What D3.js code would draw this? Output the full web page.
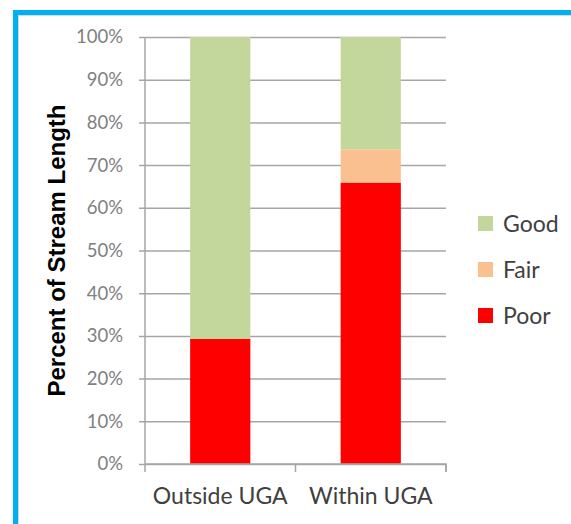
<!DOCTYPE html>
<html>
<head>
<meta charset="utf-8">
<script src="https://cdn.jsdelivr.net/npm/d3@7"></script>
<style>
  body { margin: 0; background: #fff; }
  svg { display: block; }
  .tick text { font-family: Lato, "Noto Sans", sans-serif; }
</style>
</head>
<body>
<div id="chart"></div>
<script>
// data
var categories = ["Outside UGA", "Within UGA"];
var conditions = ["Poor", "Fair", "Good"];
var poor = [29.3, 65.9];
var fair = [0, 7.8];
var good = [70.7, 26.3];
var yTicks = [0, 10, 20, 30, 40, 50, 60, 70, 80, 90, 100];
var legendOrder = ["Good", "Fair", "Poor"];

var colors = {Poor: "#ff0000", Fair: "#fac090", Good: "#c3d69b"};

var W = 571, H = 524;
var margin = {top: 37, right: 125, bottom: 60, left: 145};
var width = W - margin.left - margin.right,
    height = H - margin.top - margin.bottom;

var svg = d3.select("#chart").append("svg")
    .attr("width", W)
    .attr("height", H);

// blue frame (left + top edges visible)
svg.append("path")
    .attr("d", "M15.5,524 V12.5 H571")
    .attr("fill", "none")
    .attr("stroke", "#00b0f0")
    .attr("stroke-width", 5);
svg.append("path")
    .attr("d", "M18.5,524 V15.5 H571")
    .attr("fill", "none")
    .attr("stroke", "#d8d8d8")
    .attr("stroke-width", 1);

var g = svg.append("g")
    .attr("transform", "translate(" + margin.left + "," + margin.top + ")");

var table = categories.map(function(c, i){
    return {cat: c, Poor: poor[i], Fair: fair[i], Good: good[i]};
});

var x = d3.scaleBand()
    .domain(categories)
    .range([0, width])
    .paddingInner(0.6)
    .paddingOuter(0.3);

var y = d3.scaleLinear()
    .domain([0, 100])
    .range([height, 0]);

// y axis with gridlines
var yAxis = g.append("g")
    .attr("class", "y-axis")
    .call(d3.axisLeft(y)
        .tickValues(yTicks)
        .tickSize(-width)
        .tickPadding(22)
        .tickFormat(function(d){ return d + "%"; }));
yAxis.select(".domain").remove();
yAxis.selectAll(".tick line")
    .attr("x1", -6)
    .attr("stroke", "#a6a6a6")
    .attr("stroke-width", 1.5);
yAxis.selectAll(".tick text")
    .attr("fill", "#808080")
    .attr("font-size", 18.5);

g.append("line")
    .attr("x1", 0).attr("x2", 0)
    .attr("y1", 0).attr("y2", height)
    .attr("stroke", "#a6a6a6")
    .attr("stroke-width", 1.5);

// stacked bars
var series = d3.stack().keys(conditions)(table);

g.selectAll(".layer")
    .data(series)
    .enter().append("g")
    .attr("class", "layer")
    .attr("fill", function(d){ return colors[d.key]; })
    .selectAll("rect")
    .data(function(d){ return d; })
    .enter().append("rect")
    .attr("x", function(d){ return x(d.data.cat); })
    .attr("width", x.bandwidth())
    .attr("y", function(d){ return y(d[1]); })
    .attr("height", function(d){ return y(d[0]) - y(d[1]); });

// x axis: labels from band scale, ticks at category boundaries
var xAxis = g.append("g")
    .attr("transform", "translate(0," + height + ")")
    .call(d3.axisBottom(x).tickSize(0).tickPadding(24));
xAxis.select(".domain")
    .attr("stroke", "#a6a6a6")
    .attr("stroke-width", 1.5)
    .attr("d", "M0,0H" + width + "V8");
xAxis.selectAll(".tick text")
    .attr("fill", "#404040")
    .attr("font-size", 23);

var bounds = d3.range(categories.length + 1).map(function(i){ return i * width / categories.length; });
xAxis.selectAll(".bound")
    .data(bounds)
    .enter().append("line")
    .attr("class", "bound")
    .attr("x1", function(d){ return d; })
    .attr("x2", function(d){ return d; })
    .attr("y1", 0).attr("y2", 8)
    .attr("stroke", "#a6a6a6")
    .attr("stroke-width", 1.5);

// y title
svg.append("text")
    .attr("transform", "translate(65," + (margin.top + height / 2) + ") rotate(-90)")
    .attr("text-anchor", "middle")
    .attr("font-family", "Liberation Sans, Arial, sans-serif")
    .attr("font-weight", "bold")
    .attr("font-size", 24)
    .attr("fill", "#000")
    .text("Percent of Stream Length");

// legend
var legend = svg.append("g")
    .attr("transform", "translate(478,216)");
var items = legend.selectAll(".item")
    .data(legendOrder)
    .enter().append("g")
    .attr("class", "item")
    .attr("transform", function(d, i){ return "translate(0," + (i * 46) + ")"; });
items.append("rect")
    .attr("width", 15)
    .attr("height", 15)
    .attr("fill", function(d){ return colors[d]; });
items.append("text")
    .attr("x", 25)
    .attr("y", 8)
    .attr("dy", "0.35em")
    .attr("font-family", "Lato, 'Noto Sans', sans-serif")
    .attr("font-size", 23)
    .attr("fill", "#404040")
    .text(function(d){ return d; });
</script>
</body>
</html>
